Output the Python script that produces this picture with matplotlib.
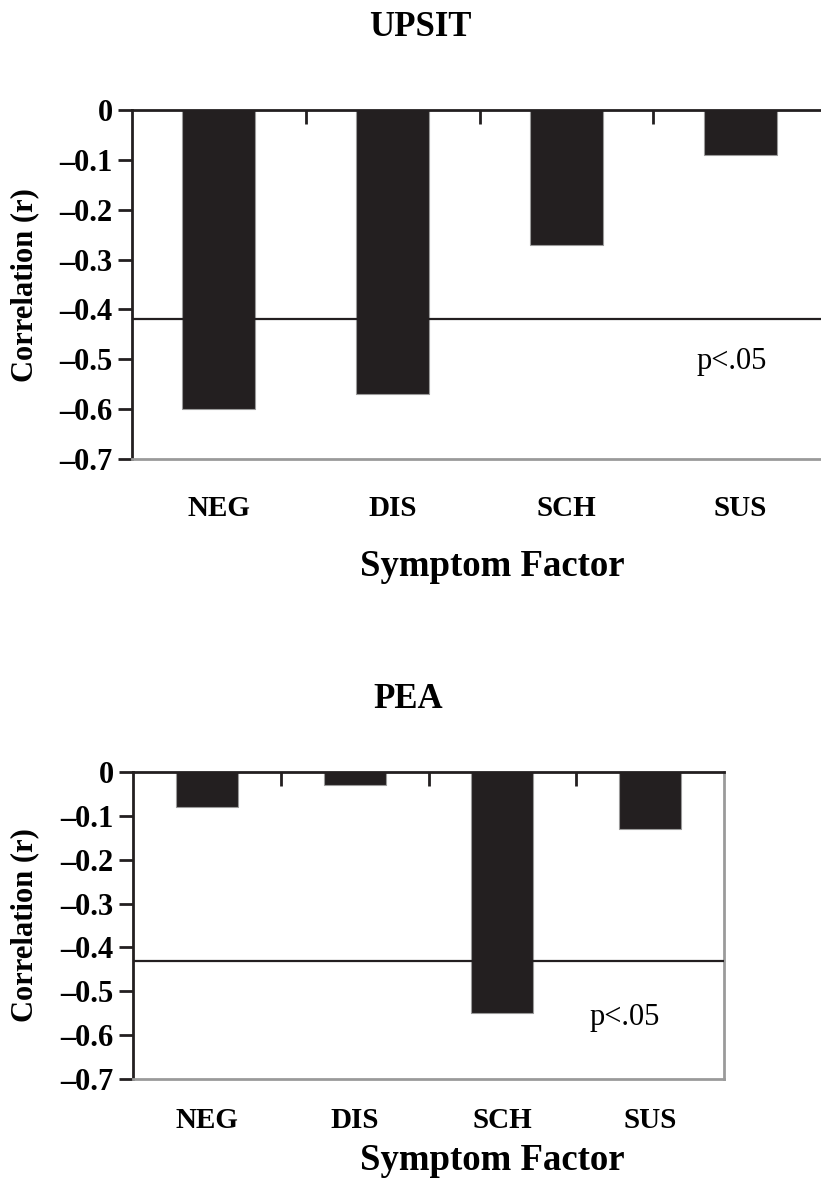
import numpy as np
import matplotlib
matplotlib.use("Agg")
import matplotlib.pyplot as plt

plt.rcParams['font.family'] = ['Liberation Serif', 'DejaVu Serif']

# data
factors = ["NEG", "DIS", "SCH", "SUS"]
upsit_r = [-0.60, -0.57, -0.27, -0.09]
pea_r = [-0.08, -0.03, -0.55, -0.13]
upsit_sig = -0.42
pea_sig = -0.43
yticks = [0, -0.1, -0.2, -0.3, -0.4, -0.5, -0.6, -0.7]
ytick_labels = ["0", "\u20130.1", "\u20130.2", "\u20130.3", "\u20130.4", "\u20130.5", "\u20130.6", "\u20130.7"]

dark = "#231f20"
grey = "#9a9a9a"

W, H = 821, 1184
fig = plt.figure(figsize=(W / 100, H / 100), dpi=100)


def panel(rect, values, sig, xmax, ptext_xy, label_pad, right_spine):
    ax = fig.add_axes(rect)
    x = np.arange(len(values))
    ax.bar(x, values, width=0.42, color=dark, edgecolor=grey, linewidth=0.8, zorder=2)
    ax.axhline(sig, color=dark, lw=1.6, zorder=3)
    ax.set_xlim(-0.5, xmax)
    ax.set_ylim(-0.7, 0)
    ax.set_yticks(yticks, labels=ytick_labels, fontsize=22, fontweight="bold")
    ax.set_xticks(x, labels=factors, fontsize=21, fontweight="bold")
    ax.set_xticks([0.5, 1.5, 2.5], minor=True)
    ax.tick_params(axis="x", which="major", length=0, pad=label_pad)
    ax.tick_params(axis="x", which="minor", bottom=False, top=True, direction="in",
                   length=10, width=2, color=dark)
    ax.tick_params(axis="y", length=10, width=2, color=dark, pad=4)
    ax.spines["top"].set_color(dark)
    ax.spines["top"].set_linewidth(2)
    ax.spines["left"].set_color(dark)
    ax.spines["left"].set_linewidth(2)
    ax.spines["bottom"].set_color(grey)
    ax.spines["bottom"].set_linewidth(2)
    ax.spines["right"].set_visible(right_spine)
    ax.spines["right"].set_color(grey)
    ax.spines["right"].set_linewidth(2)
    ax.text(ptext_xy[0], ptext_xy[1], "p<.05", fontsize=22, ha="center", va="center")
    return ax


panel([132 / W, 1 - 459 / H, (W - 132) / W, 349 / H], upsit_r, upsit_sig,
      3.464, (2.95, -0.505), 26, False)
panel([133 / W, 1 - 1079 / H, 591 / W, 307 / H], pea_r, pea_sig,
      3.5, (2.83, -0.56), 20, True)

# titles and axis labels
fig.text(420 / W, 1 - 28 / H, "UPSIT", fontsize=25, fontweight="bold", ha="center", va="center")
fig.text(408 / W, 1 - 700 / H, "PEA", fontsize=25, fontweight="bold", ha="center", va="center")
fig.text(492 / W, 1 - 567 / H, "Symptom Factor", fontsize=26.5, fontweight="bold", ha="center", va="center")
fig.text(492 / W, 1 - 1160 / H, "Symptom Factor", fontsize=26.5, fontweight="bold", ha="center", va="center")
fig.text(25 / W, 1 - 285 / H, "Correlation (r)", fontsize=22, fontweight="bold",
         rotation=90, ha="center", va="center")
fig.text(25 / W, 1 - 925 / H, "Correlation (r)", fontsize=22, fontweight="bold",
         rotation=90, ha="center", va="center")

fig.savefig("out.png", dpi=100)
